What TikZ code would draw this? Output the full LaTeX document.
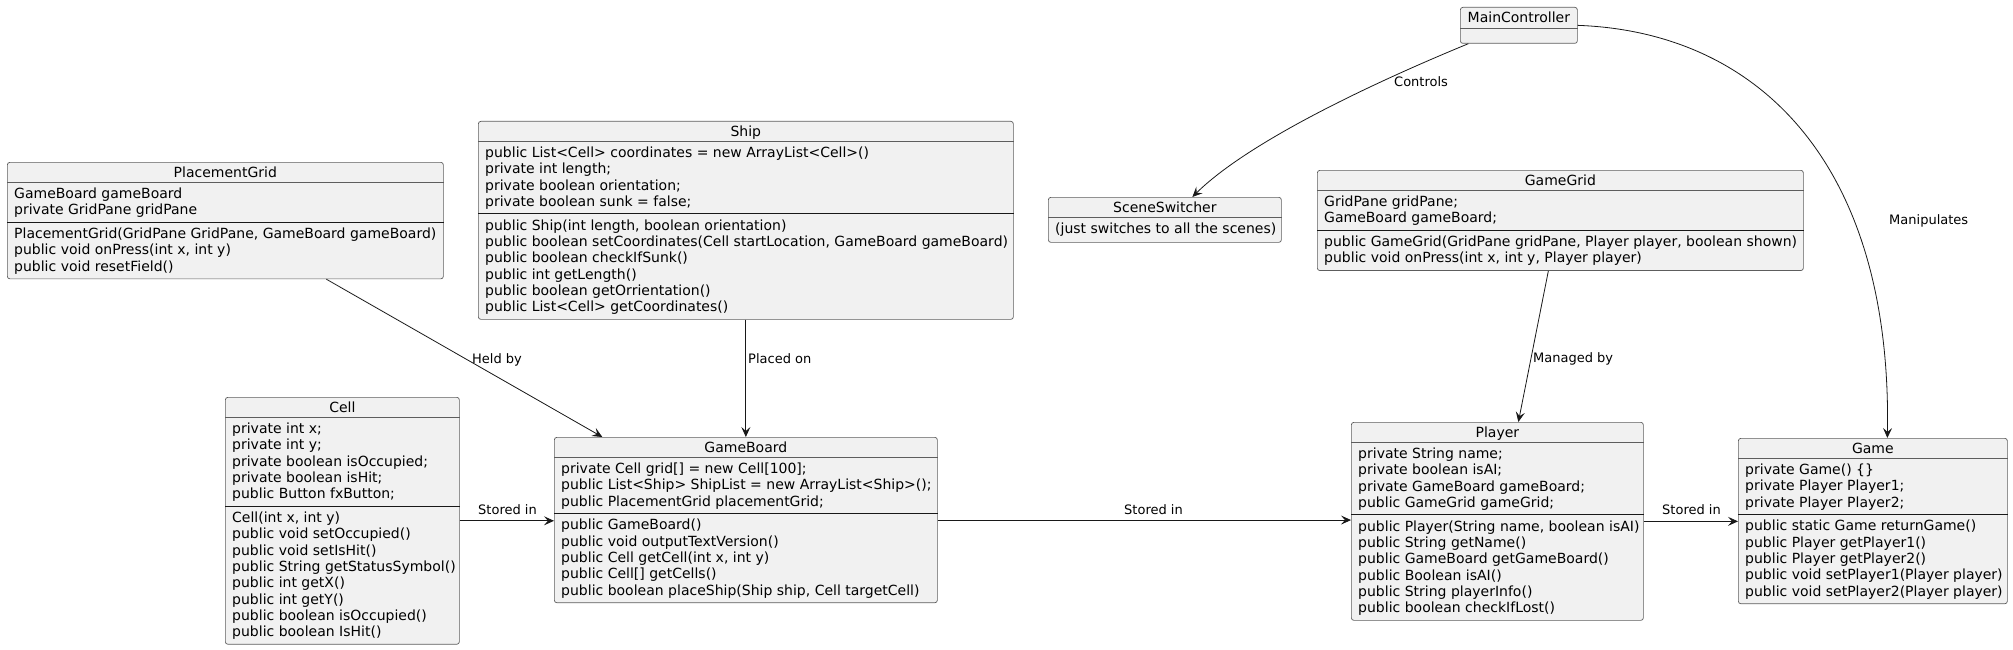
\documentclass[tikz,border=0pt]{standalone}
\usepackage{fontspec}
\setmainfont{DejaVu Sans}
\usetikzlibrary{arrows.meta,positioning}

\definecolor{fundo}{HTML}{F1F1F1}
\definecolor{borda}{HTML}{181818}

% Classe: nome, canto, largura, n. atributos, n. metodos, titulo, atributos, metodos
\newcommand{\classe}[8]{%
  \pgfmathsetmacro\posSep{27.5+#4*16.3}%
  \pgfmathsetmacro\altura{\posSep+7.5+#5*16.3}%
  \node[caixa, minimum width=#3pt, minimum height=\altura pt] (#1) at (#2) {};
  \draw[divisao] ([yshift=-20pt]#1.north west) -- ([yshift=-20pt]#1.north east);
  \draw[separador] ([yshift=-\posSep pt]#1.north west) -- ([yshift=-\posSep pt]#1.north east);
  \node[titulo] (#1-t) at ([yshift=-15.5pt]#1.north) {#6};
  \foreach \m [count=\i] in {#7}
    \node[membro] (#1-a\i) at ([xshift=7pt,yshift={-(36.5+(\i-1)*16.3)*1pt}]#1.north west) {\m};
  \foreach \m [count=\i] in {#8}
    \node[membro] (#1-m\i) at ([xshift=7pt,yshift={-(\posSep+16.5+(\i-1)*16.3)*1pt}]#1.north west) {\m};
}

\begin{document}
\begin{tikzpicture}[x=1pt, y=-1pt,
    caixa/.style={rectangle, draw=borda!70, fill=fundo, rounded corners=2.5pt, inner sep=0pt, anchor=north west, line width=0.7pt},
    divisao/.style={draw=borda!70, line width=0.7pt},
    separador/.style={draw=borda, line width=1pt},
    titulo/.style={anchor=base, inner sep=0pt, font=\fontsize{14pt}{16.3pt}\selectfont},
    membro/.style={anchor=base west, inner sep=0pt, font=\fontsize{14pt}{16.3pt}\selectfont},
    rotulo/.style={anchor=base west, inner sep=0pt, font=\fontsize{13pt}{15pt}\selectfont},
    seta/.style={draw=borda, line width=0.8pt, -{Stealth[length=10pt,width=9pt,inset=4pt]}}]
  \useasboundingbox (0,0) rectangle (2013,650);

  % Controlador e trocador de cenas
  \node[caixa, minimum width=117pt, minimum height=36pt] (maincontroller) at (1460,7) {};
  \draw[divisao] ([yshift=-21pt]maincontroller.north west) -- ([yshift=-21pt]maincontroller.north east);
  \node[titulo] (maincontroller-t) at ([yshift=-16pt]maincontroller.north) {MainController};

  \node[caixa, minimum width=233pt, minimum height=45pt] (sceneswitcher) at (1048,197) {};
  \draw[divisao] ([yshift=-20pt]sceneswitcher.north west) -- ([yshift=-20pt]sceneswitcher.north east);
  \node[titulo] (sceneswitcher-t) at ([yshift=-15.5pt]sceneswitcher.north) {SceneSwitcher};
  \node[membro] (sceneswitcher-a1) at ([xshift=7pt,yshift=-36.5pt]sceneswitcher.north west) {(just switches to all the scenes)};

  % Linha do meio
  \classe{placementgrid}{7,162}{436}{2}{3}{PlacementGrid}
    {GameBoard gameBoard, private GridPane gridPane}
    {{PlacementGrid(GridPane GridPane, GameBoard gameBoard)}, {public void onPress(int x, int y)}, public void resetField()}

  \classe{ship}{478,121}{535}{4}{6}{Ship}
    {public List<Cell> coordinates = new ArrayList<Cell>(), private int length;, private boolean orientation;, private boolean sunk = false;}
    {{public Ship(int length, boolean orientation)}, {public boolean setCoordinates(Cell startLocation, GameBoard gameBoard)}, public boolean checkIfSunk(), public int getLength(), public boolean getOrrientation(), public List<Cell> getCoordinates()}

  \classe{gamegrid}{1317,170}{486}{2}{2}{GameGrid}
    {GridPane gridPane;, GameBoard gameBoard;}
    {{public GameGrid(GridPane gridPane, Player player, boolean shown)}, {public void onPress(int x, int y, Player player)}}

  % Linha de baixo
  \classe{cell}{225,397}{234}{5}{8}{Cell}
    {private int x;, private int y;, private boolean isOccupied;, private boolean isHit;, public Button fxButton;}
    {{Cell(int x, int y)}, public void setOccupied(), public void setIsHit(), public String getStatusSymbol(), public int getX(), public int getY(), public boolean isOccupied(), public boolean IsHit()}

  \classe{gameboard}{554,437}{383}{3}{5}{GameBoard}
    {private Cell grid[] = new Cell[100];, public List<Ship> ShipList = new ArrayList<Ship>();, public PlacementGrid placementGrid;}
    {public GameBoard(), public void outputTextVersion(), {public Cell getCell(int x, int y)}, public Cell[] getCells(), {public boolean placeShip(Ship ship, Cell targetCell)}}

  \classe{player}{1351,422}{292}{4}{6}{Player}
    {private String name;, private boolean isAI;, private GameBoard gameBoard;, public GameGrid gameGrid;}
    {{public Player(String name, boolean isAI)}, public String getName(), public GameBoard getGameBoard(), public Boolean isAI(), public String playerInfo(), public boolean checkIfLost()}

  \classe{game}{1738,438}{269}{3}{5}{Game}
    {private Game() \{\}, private Player Player1;, private Player Player2;}
    {public static Game returnGame(), public Player getPlayer1(), public Player getPlayer2(), {public void setPlayer1(Player player)}, {public void setPlayer2(Player player)}}

  % Ligacoes
  \draw[seta] ([xshift=-50.5pt]maincontroller.south) .. controls (1380,80) and (1250,140) .. ([xshift=27.5pt]sceneswitcher.north);
  \draw[seta] (maincontroller.east) .. controls (1760,32) and (1892,165) .. ([xshift=14.5pt]game.north);
  \draw[seta] ([xshift=101pt]placementgrid.south) -- ([xshift=-143.5pt]gameboard.north);
  \draw[seta] (ship.south) -- (gameboard.north);
  \draw[seta] ([xshift=-12pt]gamegrid.south) -- ([xshift=21pt]player.north);
  \draw[seta] (cell.east) -- (cell.east -| gameboard.west);
  \draw[seta] (gameboard.east) -- (gameboard.east -| player.west);
  \draw[seta] (player.east) -- (player.east -| game.west);

  % Rotulos
  \node[rotulo] (rot-controls) at (1394,87) {Controls};
  \node[rotulo] (rot-manipulates) at (1889,224) {Manipulates};
  \node[rotulo] (rot-held) at (472,363) {Held by};
  \node[rotulo] (rot-placed) at (748,363) {Placed on};
  \node[rotulo] (rot-managed) at (1533,362) {Managed by};
  \node[rotulo] (rot-stored1) at (478,514) {Stored in};
  \node[rotulo] (rot-stored2) at (1124,514) {Stored in};
  \node[rotulo] (rot-stored3) at (1662,514) {Stored in};
\end{tikzpicture}
\end{document}
